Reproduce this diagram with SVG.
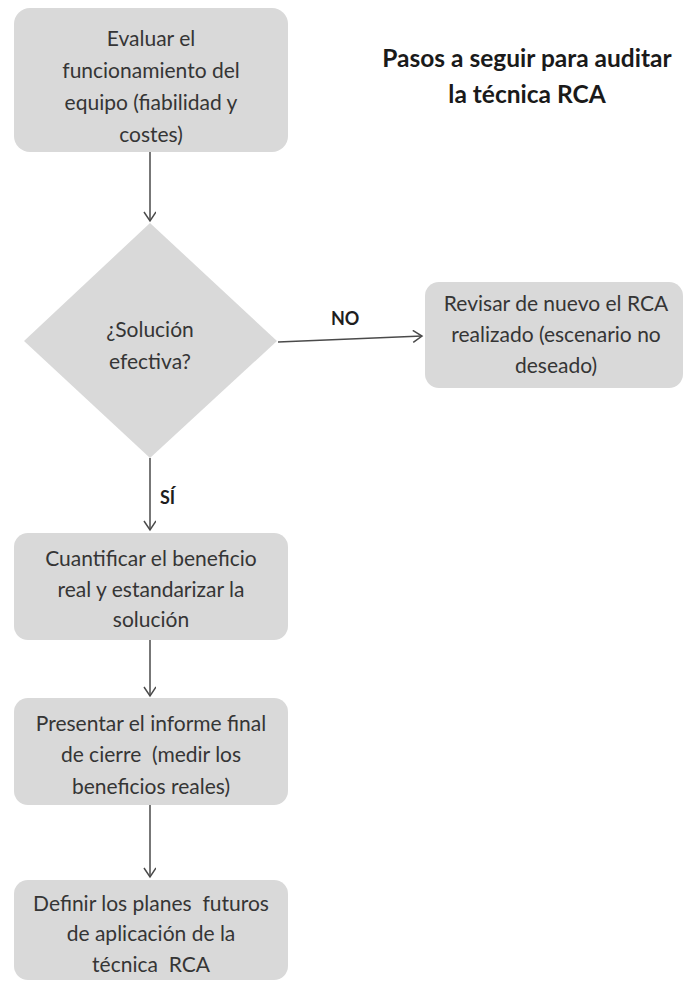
<svg xmlns="http://www.w3.org/2000/svg" width="685" height="981" viewBox="0 0 685 981">
<style>
.node{fill:#d9d9d9;}
.t{font-family:Lato,"Open Sans","Liberation Sans",sans-serif;font-size:21px;fill:#353535;text-anchor:middle;dominant-baseline:central;white-space:pre;}
.lbl{font-family:Lato,"Open Sans","Liberation Sans",sans-serif;font-size:18px;font-weight:bold;fill:#1e1e1e;dominant-baseline:central;}
.title{font-family:Lato,"Open Sans","Liberation Sans",sans-serif;font-size:24.5px;font-weight:bold;fill:#1a1a1a;text-anchor:middle;dominant-baseline:central;}
.c{stroke:#4a4a4a;stroke-width:1.5;fill:none;marker-end:url(#arr);}
</style>
<defs>
<marker id="arr" markerWidth="14" markerHeight="14" refX="10" refY="6" orient="auto" markerUnits="userSpaceOnUse">
<path d="M1,0 L10,6 L1,12" fill="none" stroke="#4a4a4a" stroke-width="1.5"/>
</marker>
</defs>
<rect width="685" height="981" fill="#ffffff"/>
<g id="title">
<text class="title" x="527" y="57">Pasos a seguir para auditar</text>
<text class="title" x="527" y="93">la técnica RCA</text>
</g>
<g id="connectors">
<line class="c" x1="150" y1="152" x2="150" y2="221"/>
<line class="c" x1="278" y1="342" x2="422" y2="336"/>
<line class="c" x1="150" y1="458" x2="150" y2="530"/>
<line class="c" x1="150" y1="640" x2="150" y2="696"/>
<line class="c" x1="150" y1="805" x2="150" y2="877"/>
<text class="lbl" x="331" y="318">NO</text>
<text class="lbl" x="160" y="497">SÍ</text>
</g>
<g id="n1">
<rect class="node" x="14" y="8" width="274" height="144" rx="16"/>
<text class="t" x="151" y="37">Evaluar el</text>
<text class="t" x="151" y="69">funcionamiento del</text>
<text class="t" x="151" y="101">equipo (fiabilidad y</text>
<text class="t" x="151" y="133">costes)</text>
</g>
<g id="n2">
<polygon class="node" points="150,223 277,341 150,458 24,341"/>
<text class="t" x="150" y="328">¿Solución</text>
<text class="t" x="150" y="360">efectiva?</text>
</g>
<g id="n3">
<rect class="node" x="425" y="282" width="258" height="106" rx="14"/>
<text class="t" x="556" y="302">Revisar de nuevo el RCA</text>
<text class="t" x="556" y="333">realizado (escenario no</text>
<text class="t" x="556" y="364">deseado)</text>
</g>
<g id="n4">
<rect class="node" x="14" y="533" width="274" height="107" rx="14"/>
<text class="t" x="151" y="557">Cuantificar el beneficio</text>
<text class="t" x="151" y="588">real y estandarizar la</text>
<text class="t" x="151" y="618">solución</text>
</g>
<g id="n5">
<rect class="node" x="14" y="698" width="274" height="107" rx="14"/>
<text class="t" x="151" y="722">Presentar el informe final</text>
<text class="t" x="151" y="753">de cierre  (medir los</text>
<text class="t" x="151" y="785">beneficios reales)</text>
</g>
<g id="n6">
<rect class="node" x="14" y="880" width="274" height="100" rx="14"/>
<text class="t" x="151" y="902">Definir los planes  futuros</text>
<text class="t" x="151" y="932">de aplicación de la</text>
<text class="t" x="151" y="963">técnica  RCA</text>
</g>
</svg>
